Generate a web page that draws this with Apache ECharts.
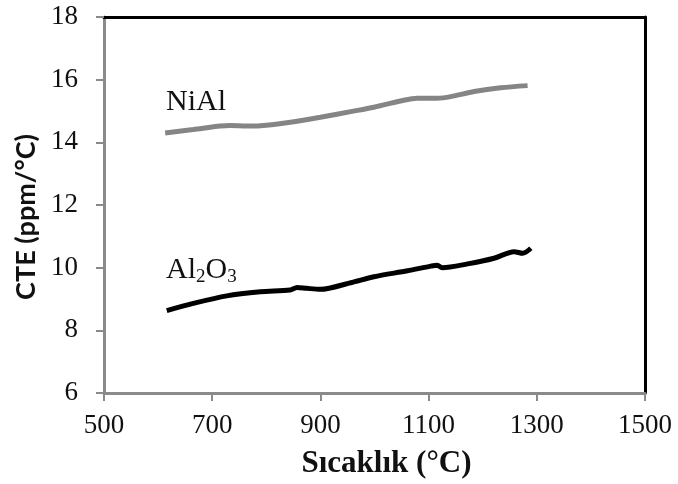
<!DOCTYPE html>
<html>
<head>
    <meta charset="utf-8">
    <title>CTE</title>
    <script src="https://cdn.jsdelivr.net/npm/echarts@6/dist/echarts.min.js"></script>
    <style>
        html, body { margin: 0; padding: 0; background: #fff; }
    </style>
</head>
<body>
    <div id="main" style="width: 678px;height:484px;"></div>
    <script type="text/javascript">
        // values
        var tempNiAl = [613, 665, 715, 733, 764, 789, 851, 900, 956, 999, 1048, 1079, 1116, 1141, 1184, 1233, 1283];
        var cteNiAl = [14.30, 14.41, 14.52, 14.54, 14.52, 14.53, 14.66, 14.80, 14.98, 15.12, 15.32, 15.41, 15.41, 15.46, 15.62, 15.74, 15.81];

        var tempAl2O3 = [616, 665, 727, 789, 844, 857, 875, 900, 956, 999, 1061, 1104, 1116, 1125, 1172, 1221, 1258, 1274, 1289];
        var cteAl2O3 = [8.63, 8.86, 9.10, 9.23, 9.29, 9.37, 9.34, 9.31, 9.52, 9.71, 9.90, 10.05, 10.08, 10.00, 10.12, 10.30, 10.51, 10.46, 10.62];

        var xTicks = [500, 700, 900, 1100, 1300, 1500];
        var yTicks = [6, 8, 10, 12, 14, 16, 18];

        function pairs(xs, ys) {
            var out = [];
            for (var i = 0; i < xs.length; i++) {
                out.push([xs[i], ys[i]]);
            }
            return out;
        }

        var serif = 'Liberation Serif';
        var myChart = echarts.init(document.getElementById('main'));

        var option = {
            animation: false,
            grid: { left: 104, top: 17, right: 33, bottom: 91 },
            xAxis: [
                {
                    type: 'value',
                    min: xTicks[0],
                    max: xTicks[xTicks.length - 1],
                    interval: 200,
                    name: 'Sıcaklık (°C)',
                    nameLocation: 'middle',
                    nameGap: 55,
                    nameTextStyle: {
                        fontFamily: serif, fontWeight: 'bold', fontSize: 31, color: '#111',
                        padding: [0, 0, 0, 24]
                    },
                    axisLine: { lineStyle: { color: '#8a8a8a', width: 3 } },
                    axisTick: { inside: false, length: 8, lineStyle: { color: '#8a8a8a', width: 2 } },
                    axisLabel: {
                        fontFamily: serif, fontSize: 27, color: '#111', margin: 19,
                        formatter: function (v) { return String(v); }
                    },
                    splitLine: { show: false }
                },
                {
                    type: 'value', position: 'top',
                    min: xTicks[0], max: xTicks[xTicks.length - 1],
                    axisLine: { show: true, lineStyle: { color: '#000', width: 3 } },
                    axisTick: { show: false }, axisLabel: { show: false }, splitLine: { show: false }
                }
            ],
            yAxis: [
                {
                    type: 'value',
                    min: yTicks[0],
                    max: yTicks[yTicks.length - 1],
                    interval: 2,
                    name: 'CTE (ppm/°C)',
                    nameLocation: 'middle',
                    nameGap: 64,
                    nameTextStyle: {
                        fontFamily: 'Lato', fontWeight: 'bold', fontSize: 27, color: '#111',
                        padding: [0, 24, 0, 0]
                    },
                    axisLine: { show: true, lineStyle: { color: '#8a8a8a', width: 3 } },
                    axisTick: { show: true, length: 8, lineStyle: { color: '#8a8a8a', width: 2 } },
                    axisLabel: { fontFamily: serif, fontSize: 27, color: '#111', margin: 26 },
                    splitLine: { show: false }
                },
                {
                    type: 'value', position: 'right',
                    min: yTicks[0], max: yTicks[yTicks.length - 1],
                    axisLine: { show: true, lineStyle: { color: '#000', width: 3 } },
                    axisTick: { show: false }, axisLabel: { show: false }, splitLine: { show: false }
                }
            ],
            series: [
                {
                    name: 'NiAl',
                    type: 'line',
                    data: pairs(tempNiAl, cteNiAl),
                    showSymbol: false,
                    smooth: 0.3,
                    lineStyle: { color: '#858585', width: 5 }
                },
                {
                    name: 'Al2O3',
                    type: 'line',
                    data: pairs(tempAl2O3, cteAl2O3),
                    showSymbol: false,
                    smooth: 0.3,
                    lineStyle: { color: '#000', width: 5 }
                }
            ],
            graphic: [
                {
                    type: 'text', left: 166, top: 87,
                    style: { text: 'NiAl', fontFamily: serif, fontSize: 30, fill: '#111' }
                },
                {
                    type: 'text', left: 166, top: 255,
                    style: {
                        text: 'Al{sub|2}O{sub|3}',
                        fontFamily: serif, fontSize: 30, fill: '#111',
                        rich: {
                            sub: { fontFamily: serif, fontSize: 19, fill: '#111', padding: [14, 0, 0, 0] }
                        }
                    }
                }
            ]
        };

        myChart.setOption(option);
    </script>
</body>
</html>
